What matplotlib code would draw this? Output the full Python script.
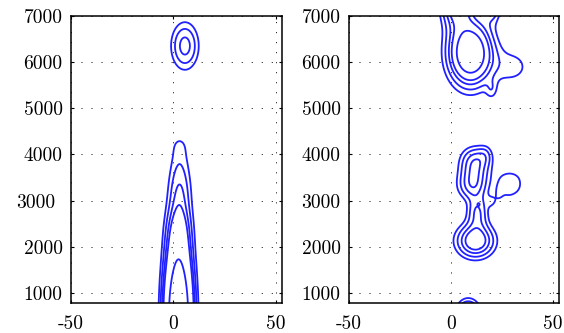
import numpy as np
import matplotlib
matplotlib.use("Agg")
import matplotlib.pyplot as plt
from matplotlib.transforms import ScaledTranslation

# kernel tables: centre x, centre y, spread x, spread y, weight
left_cx = [2.5, 2.5, 2.5, 2.5, 2.5, 2.6, 2.8, 3.0, 3.0, 3.0, 3.0, 5.6]
left_cy = [400, 800, 1200, 1600, 2000, 2400, 2800, 3200, 3600, 4000, 4250, 6350]
left_sx = [4.1, 4.1, 4.1, 4.1, 4.1, 4.1, 4.1, 4.0, 3.9, 3.8, 3.6, 4.65]
left_sy = [300, 300, 300, 300, 300, 300, 300, 300, 300, 250, 180, 355]
left_w = [0.61, 0.53, 0.43, 0.30, 0.22, 0.18, 0.10, 0.09, 0.07, 0.04, 0.035, 0.172]

right_cx = [9.5, 3.0, 20.0, 30.0, 20.0,
            12.0, 13.0, 13.7, 10.5, 11.5, 12.0, 17.0,
            25.0, 29.0, 33.0, 23.5, 20.0, 8.5]
right_cy = [6200, 7400, 7300, 5900, 5400,
            2130, 2750, 2925, 3300, 3600, 3900, 4000,
            3350, 3350, 3370, 3150, 2980, 400]
right_sx = [6.9, 5.0, 3.0, 7.5, 2.0,
            6.2, 3.5, 0.5, 5.0, 5.0, 5.0, 2.5,
            2.7, 2.5, 2.7, 1.5, 2.0, 3.8]
right_sy = [450, 400, 250, 300, 150,
            245, 250, 25, 200, 200, 200, 150,
            255, 255, 230, 120, 100, 250]
right_w = [0.47, 0.33, 0.2, 0.075, 0.06,
           0.27, 0.15, 0.02, 0.15, 0.125, 0.15, 0.05,
           0.055, 0.055, 0.055, 0.03, 0.05, 0.41]

left_levels = [0.06, 0.10, 0.15, 0.20, 0.53]
right_levels = [0.06, 0.10, 0.15, 0.20, 0.30]

x_ticks = [-50, 0, 50]
y_ticks = [1000, 2000, 3000, 4000, 5000, 6000, 7000]

plt.rcParams["font.family"] = "cmr10"
plt.rcParams["axes.formatter.use_mathtext"] = True

xg = np.linspace(-50, 53, 700)
yg = np.linspace(600, 7600, 1000)
X, Y = np.meshgrid(xg, yg)


def field(cx, cy, sx, sy, w):
    z = np.zeros_like(X)
    for a, b, c, d, e in zip(cx, cy, sx, sy, w):
        z += e * np.exp(-0.5 * ((X - a) / c) ** 2 - 0.5 * ((Y - b) / d) ** 2)
    return z


fig = plt.figure(figsize=(5.64, 3.33), dpi=100)
ax1 = fig.add_axes([0.1259, 0.0901, 0.3741, 0.8619])
ax2 = fig.add_axes([0.6188, 0.0901, 0.3723, 0.8619])

panels = [
    (ax1, field(left_cx, left_cy, left_sx, left_sy, left_w), left_levels),
    (ax2, field(right_cx, right_cy, right_sx, right_sy, right_w), right_levels),
]

for ax, z, lev in panels:
    ax.contour(X, Y, z, levels=lev, colors=[(0.13, 0.13, 1.0)], linewidths=1.3)
    ax.set_xlim(-50, 53)
    ax.set_ylim(783, 7000)
    ax.set_xticks(x_ticks)
    ax.set_xticklabels([str(v) for v in x_ticks])
    ax.set_yticks(y_ticks)
    ax.set_yticklabels([str(v) for v in y_ticks])
    ax.grid(True, color="black", linewidth=0.7, linestyle=(0, (1, 9.3)))
    ax.tick_params(direction="in", length=2.5, width=0.8, top=True, right=True,
                   labelsize=14)
    ax.tick_params(axis="x", pad=9)
    ax.tick_params(axis="y", pad=6)
    for s in ax.spines.values():
        s.set_linewidth(1.1)

# the 3000 label on the left panel sits a little further out
lab = ax1.get_yticklabels()[2]
lab.set_transform(lab.get_transform() + ScaledTranslation(-0.07, 0, fig.dpi_scale_trans))

fig.savefig("out.png", dpi=100)
